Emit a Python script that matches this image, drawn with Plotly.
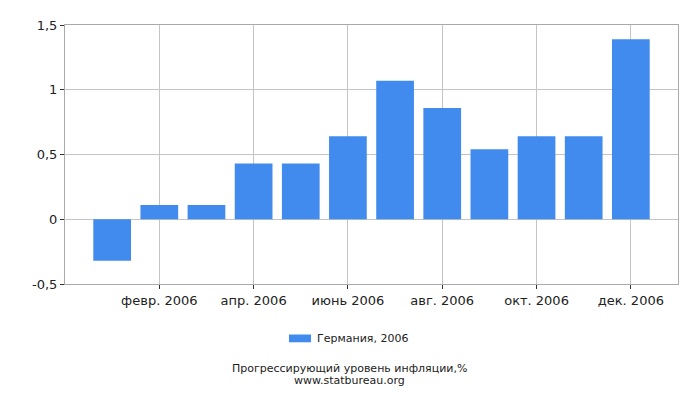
import plotly.graph_objects as go

months = ["янв. 2006", "февр. 2006", "март 2006", "апр. 2006", "май 2006", "июнь 2006",
          "июль 2006", "авг. 2006", "сент. 2006", "окт. 2006", "нояб. 2006", "дек. 2006"]
values = [-0.32, 0.11, 0.11, 0.43, 0.43, 0.64, 1.07, 0.86, 0.54, 0.64, 0.64, 1.39]
series_name = "Германия, 2006"
y_ticks = [-0.5, 0, 0.5, 1, 1.5]
y_tick_labels = ["-0,5", "0", "0,5", "1", "1,5"]
x_tick_idx = [1, 3, 5, 7, 9, 11]

idx = list(range(len(months)))
bar_color = "#428bee"

fig = go.Figure()
fig.add_trace(go.Bar(x=idx, y=values, name=series_name, marker_color=bar_color,
                     marker_line_width=0, showlegend=False))

fig.update_layout(
    width=700, height=400,
    margin=dict(l=57, r=30, t=10, b=124),
    paper_bgcolor="white", plot_bgcolor="white",
    font=dict(family="DejaVu Sans", size=13, color="#222"),
    bargap=0.2,
    showlegend=False,
    xaxis=dict(range=[-1, 12], tickvals=x_tick_idx, ticktext=[months[i] for i in x_tick_idx],
               showgrid=True, gridcolor="#c4c4c4", gridwidth=1,
               showline=True, linecolor="#aaa", mirror=True,
               ticks="outside", ticklen=4, tickcolor="#333", zeroline=False),
    yaxis=dict(range=[-0.5, 1.5], tickvals=y_ticks, ticktext=y_tick_labels,
               showgrid=True, gridcolor="#c4c4c4", gridwidth=1,
               showline=True, linecolor="#aaa", mirror=True,
               ticks="outside", ticklen=4, tickcolor="#333",
               zeroline=True, zerolinecolor="#c4c4c4", zerolinewidth=1),
    shapes=[dict(type="rect", xref="paper", yref="paper",
                 x0=0.3654, x1=0.4013, y0=-0.225, y1=-0.195,
                 fillcolor=bar_color, line_width=0)],
    annotations=[
        dict(text=series_name, x=0.408, xref="paper", xanchor="left",
             y=-0.212, yref="paper", yanchor="middle",
             showarrow=False, font=dict(size=11, color="#222")),
        dict(text="Прогрессирующий уровень инфляции,%",
             x=0.4641, xref="paper", y=-0.325, yref="paper", yanchor="middle",
             showarrow=False, font=dict(size=11, color="#222")),
        dict(text="www.statbureau.org",
             x=0.4641, xref="paper", y=-0.372, yref="paper", yanchor="middle",
             showarrow=False, font=dict(size=11, color="#222")),
    ],
)

fig.write_html("out.html")
